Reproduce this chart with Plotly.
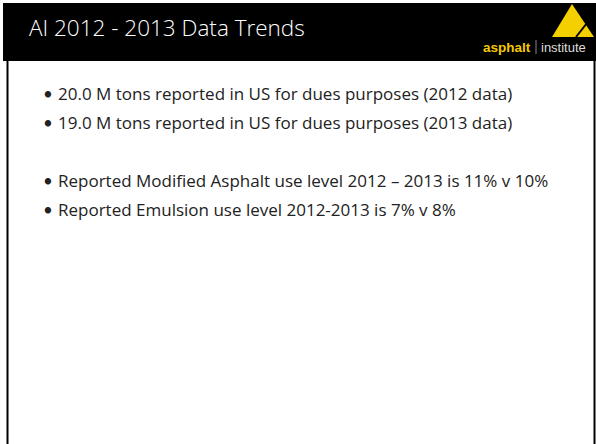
import plotly.graph_objects as go

title = "AI 2012 - 2013 Data Trends"
bullets = [
    "20.0 M tons reported in US for dues purposes (2012 data)",
    "19.0 M tons reported in US for dues purposes (2013 data)",
    "Reported Modified Asphalt use level 2012 \u2013 2013 is 11% v 10%",
    "Reported Emulsion use level 2012-2013 is 7% v 8%",
]
bullet_y = [93, 122, 180, 209]

W, H = 596, 444
fig = go.Figure()
fig.update_layout(
    width=W, height=H, margin=dict(l=0, r=0, t=0, b=0),
    paper_bgcolor="white", plot_bgcolor="white", showlegend=False,
    xaxis=dict(range=[0, W], visible=False, fixedrange=True),
    yaxis=dict(range=[H, 0], visible=False, fixedrange=True),
)

shapes = [
    dict(type="rect", x0=7.5, x1=594.5, y0=58, y1=470, line=dict(color="black", width=2), fillcolor="white", layer="below"),
    dict(type="rect", x0=3, x1=W + 10, y0=3, y1=61, line=dict(width=0), fillcolor="black"),
    dict(type="path", path="M 572 4 L 594 37 L 552 37 Z", fillcolor="#F5D000", line=dict(width=0)),
    dict(type="line", x0=576, y0=37, x1=587, y1=23, line=dict(color="black", width=2)),
    dict(type="line", x0=536, y0=40, x1=536, y1=54, line=dict(color="#888888", width=1)),
]
fig.update_layout(shapes=shapes)

ann = [
    dict(x=27, y=27, text=title, showarrow=False, xanchor="left", yanchor="middle",
         font=dict(family="Open Sans", size=22.5, color="white", weight=300)),
    dict(x=533, y=47, text="<b>asphalt</b>", showarrow=False, xanchor="right", yanchor="middle",
         font=dict(family="Liberation Sans", size=13.5, color="#F5C800")),
    dict(x=539, y=47, text="institute", showarrow=False, xanchor="left", yanchor="middle",
         font=dict(family="Liberation Sans", size=13, color="#dddddd")),
]
for t, y in zip(bullets, bullet_y):
    ann.append(dict(x=41, y=y, text="\u2022", showarrow=False, xanchor="left", yanchor="middle",
                    font=dict(family="Lato", size=17, color="#222222")))
    ann.append(dict(x=56, y=y, text=t, showarrow=False, xanchor="left", yanchor="middle",
                    font=dict(family="Open Sans", size=17, color="#222222")))
fig.update_layout(annotations=ann)

fig.write_html("out.html", config={"displayModeBar": False, "staticPlot": True},
               post_script="document.body.style.margin='0';")
